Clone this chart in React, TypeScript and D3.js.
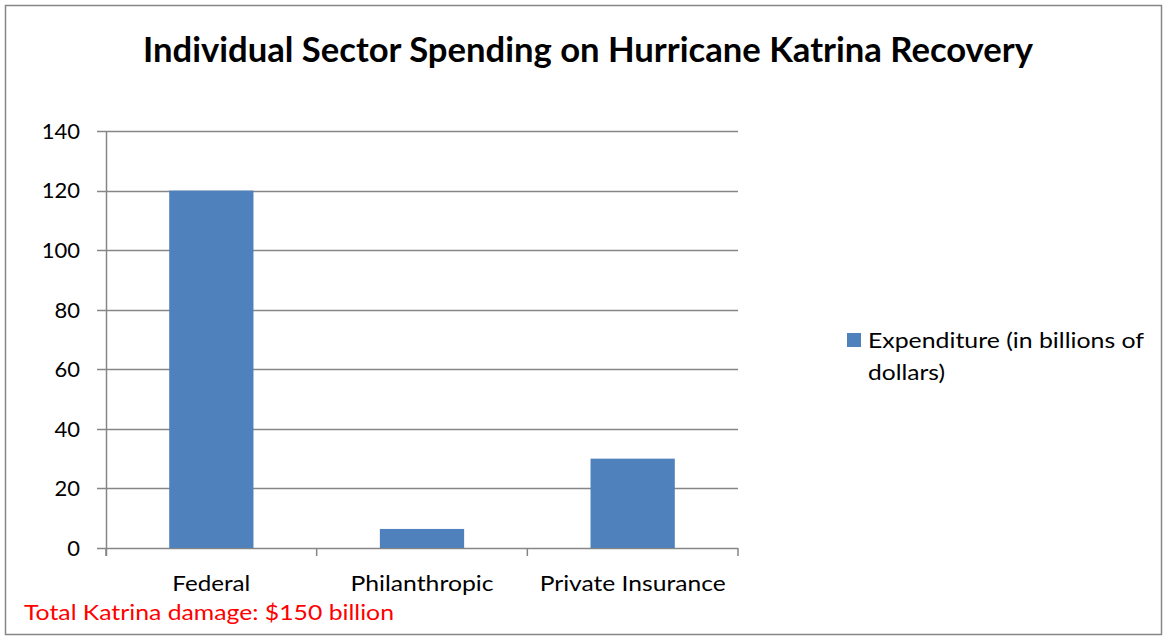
import React from "react";
import * as d3 from "d3";

const categories = ["Federal", "Philanthropic", "Private Insurance"];
const expenditure = [120, 6.4, 30];
const yTicks = [0, 20, 40, 60, 80, 100, 120, 140];
const titleText = "Individual Sector Spending on Hurricane Katrina Recovery";
const legendLines = ["Expenditure (in billions of", "dollars)"];
const noteText = "Total Katrina damage: $150 billion";

const W = 1165;
const H = 637;
const plot = { left: 106, right: 738, top: 131, bottom: 548 };
const FONT = "Lato, 'Open Sans', 'Liberation Sans', sans-serif";
const BAR = "#4F81BD";
const GRID = "#868686";
const labelWidths = [78, 143, 186];

export default function App() {
  const x = d3
    .scaleBand<string>()
    .domain(categories)
    .range([plot.left, plot.right])
    .paddingInner(0.6)
    .paddingOuter(0.3);
  const y = d3.scaleLinear().domain([0, 140]).range([plot.bottom, plot.top]);
  const step = (plot.right - plot.left) / categories.length;
  const xTickPos = d3.range(categories.length + 1).map((i) => plot.left + i * step);

  return (
    <svg
      width={W}
      height={H}
      style={{ position: "absolute", left: 0, top: 0, background: "#fff" }}
      fontFamily={FONT}
    >
      <rect x={0} y={0} width={W} height={H} fill="#fff" />
      <rect x={5.5} y={5.5} width={1156} height={629} fill="none" stroke={GRID} strokeWidth={1.5} />
      <text
        x={588}
        y={62}
        textAnchor="middle"
        fontSize={34}
        fontWeight="bold"
        fill="#000"
        textLength={890}
        lengthAdjust="spacingAndGlyphs"
      >
        {titleText}
      </text>
      {yTicks.map((t) => (
        <g key={t}>
          <line x1={97} x2={plot.right} y1={Math.round(y(t)) + 0.5} y2={Math.round(y(t)) + 0.5} stroke={GRID} strokeWidth={1.5} />
          <text x={80} y={y(t)} dy="0.36em" textAnchor="end" fontSize={22} fill="#000">
            {t}
          </text>
        </g>
      ))}
      <line x1={plot.left + 0.5} x2={plot.left + 0.5} y1={plot.top} y2={plot.bottom + 8} stroke={GRID} strokeWidth={1.5} />
      {xTickPos.map((p, i) => (
        <line key={i} x1={p} x2={p} y1={plot.bottom} y2={plot.bottom + 8} stroke={GRID} strokeWidth={1.5} />
      ))}
      {categories.map((c, i) => (
        <rect
          key={c}
          x={x(c)}
          y={y(expenditure[i])}
          width={x.bandwidth()}
          height={y(0) - y(expenditure[i])}
          fill={BAR}
        />
      ))}
      {categories.map((c, i) => (
        <text
          key={c}
          x={(x(c) as number) + x.bandwidth() / 2}
          y={591}
          textAnchor="middle"
          fontSize={22}
          fill="#000"
          textLength={labelWidths[i]}
          lengthAdjust="spacingAndGlyphs"
        >
          {c}
        </text>
      ))}
      <text x={24} y={620} fontSize={21} fill="#FF0000" textLength={370} lengthAdjust="spacingAndGlyphs">
        {noteText}
      </text>
      <rect x={847} y={333} width={14} height={14} fill={BAR} />
      <text x={868} y={348} fontSize={21} fill="#000" textLength={276} lengthAdjust="spacingAndGlyphs">
        {legendLines[0]}
      </text>
      <text x={868} y={380} fontSize={21} fill="#000" textLength={77} lengthAdjust="spacingAndGlyphs">
        {legendLines[1]}
      </text>
    </svg>
  );
}
